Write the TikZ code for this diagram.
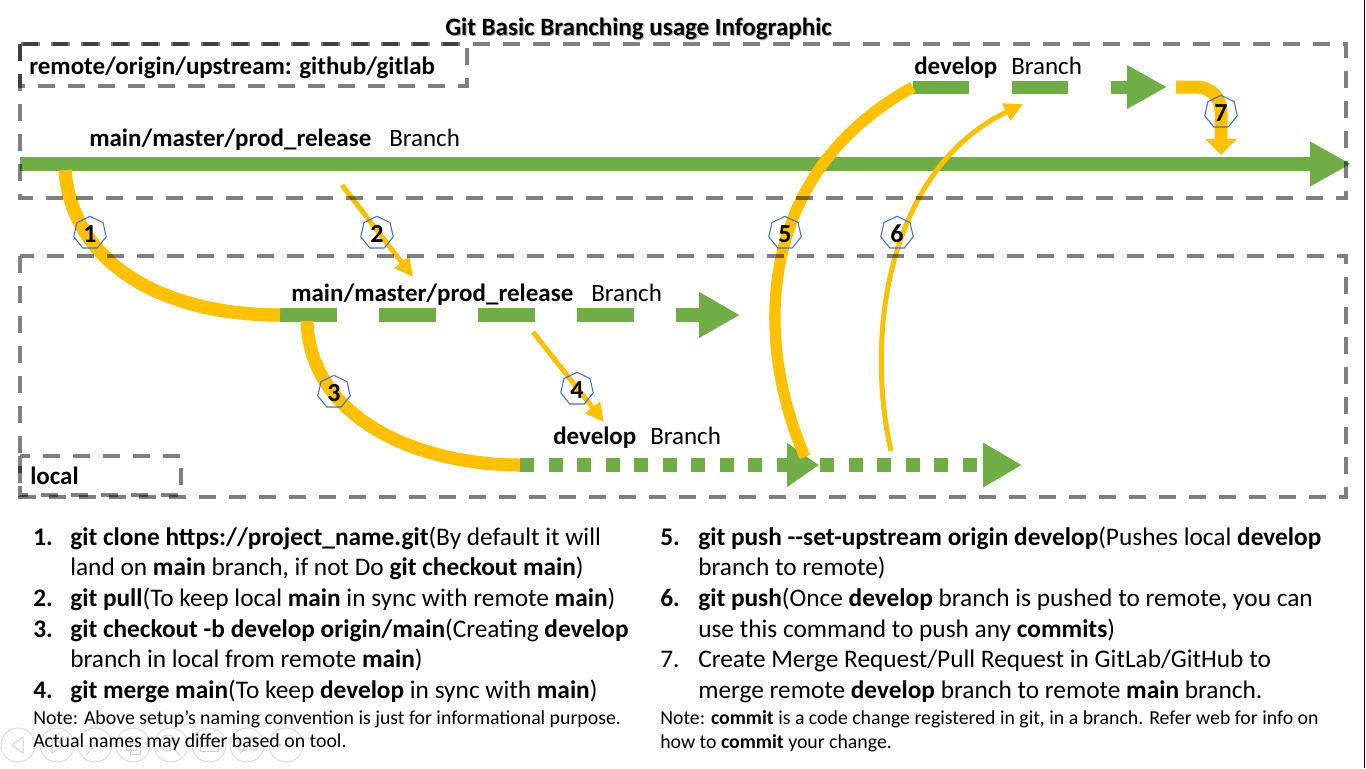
\documentclass[tikz,border=0pt]{standalone}
\usepackage{fontspec}
\setmainfont{Carlito}
\usetikzlibrary{arrows.meta,shapes.geometric,calc}

\definecolor{brgreen}{HTML}{70AD47}
\definecolor{bryellow}{HTML}{FFC000}
\definecolor{heptblue}{HTML}{4472C4}

\tikzset{
  % dashed zones (semi-transparent so overlaps darken)
  zonebox/.style={draw=black, draw opacity=0.5, line width=3pt, dash pattern=on 12.75pt off 9.75pt},
  % branch lines
  solidbranch/.style={draw=brgreen, line width=10.5pt},
  dashbranch/.style={draw=brgreen, line width=10pt, dash pattern=on 42.75pt off 31.5pt},
  dotbranch/.style={draw=brgreen, line width=10.5pt, dash pattern=on 10.5pt off 10.875pt},
  % git operations
  opthick/.style={draw=bryellow, line width=10pt},
  opthin/.style={draw=bryellow, line width=3.75pt, -{Triangle[length=14pt,width=13.5pt]}},
  hept/.style={regular polygon, regular polygon sides=7, draw=heptblue, line width=0.8pt,
               minimum size=25pt, inner sep=0pt},
  heptnum/.style={font=\bfseries\fontsize{19.5pt}{20pt}\selectfont, inner sep=0pt},
  % texts
  lbl/.style={anchor=base west, inner sep=0pt, font=\fontsize{18.75pt}{22pt}\selectfont},
  lblb/.style={lbl, font=\bfseries\fontsize{18.75pt}{22pt}\selectfont},
  itemtxt/.style={anchor=base west, inner sep=0pt, font=\fontsize{19pt}{22pt}\selectfont},
  notetxt/.style={anchor=base west, inner sep=0pt, font=\fontsize{14.85pt}{17pt}\selectfont},
  navring/.style={draw=black!14, line width=0.75pt},
  navglyph/.style={draw=black!18, line width=0.75pt},
}

\begin{document}
\begin{tikzpicture}[x=0.75pt,y=-0.75pt]
\useasboundingbox (0,0) rectangle (1366,768);

% ---------- slideshow control rings ----------
\foreach \cx [count=\k] in {18,57,95,133,171,209,247,286}
  \node[navring, circle, minimum size=25.5pt, inner sep=0pt] (nav\k) at (\cx,745) {};
\draw[navglyph] (23,737) -- (12,745) -- (23,753) -- cycle;
\draw[navglyph] (52,737) -- (63,745) -- (52,753) -- cycle;
\draw[navglyph] (88,753) -- (101,737) (88,753) -- (86,755);
\draw[navglyph] (126,739) rectangle (136,750) (130,743) rectangle (140,754);
\draw[navglyph] (168,743) circle[radius=6pt] (174,749) -- (181,756);
\draw[navglyph] (200,739) rectangle (218,751) (203,745) -- (215,745);
\draw[navglyph] (238,738) rectangle (256,750) (240,754) -- (254,736);
\foreach \dx in {-6,0,6}
  \fill[black!20] ($(nav8)+(\dx,0)$) circle[radius=1.2pt];

% ---------- anchor points ----------
\coordinate (rmA) at (20,164);   \coordinate (rmB) at (1351,164);
\coordinate (lmA) at (280,315);  \coordinate (lmB) at (740,315);
\coordinate (ldA) at (520,465);  \coordinate (ldB) at (819,465);
\coordinate (ldC) at (820,465);  \coordinate (ldD) at (1022,465);
\coordinate (rdA) at (913,87);   \coordinate (rdB) at (1167,87);

% ---------- branches ----------
\draw[solidbranch, -{Triangle[length=30.75pt,width=31.5pt]}] (rmA) -- (rmB);
\draw[dashbranch, -{Triangle[length=30.75pt,width=32.25pt]}] (lmA) -- (lmB);
\draw[dotbranch, -{Triangle[length=24pt,width=31.5pt]}] (ldA) -- (ldB);
\draw[dotbranch, -{Triangle[length=29.25pt,width=31.5pt]}] (ldC) -- (ldD);
\draw[dashbranch, line width=9.75pt, dash pattern=on 42pt off 32.25pt,
      -{Triangle[length=30pt,width=30.75pt]}] (rdA) -- (rdB);

% ---------- operations ----------
\coordinate (o1A) at (65,170);
\draw[opthick] (o1A) .. controls (72,262) and (160,315) .. (lmA);
\coordinate (o2A) at (342,185);  \coordinate (o2B) at (413,277);
\draw[opthin] (o2A) -- (o2B);
\coordinate (o3A) at (307,321);
\draw[opthick, line width=9.75pt] (o3A) .. controls (310,420) and (420,465) .. (ldA);
\coordinate (o4A) at (533,332);  \coordinate (o4B) at (604,422);
\draw[opthin] (o4A) -- (o4B);
\coordinate (o5A) at (805,457);
\draw[opthick, line width=8.5pt] (o5A) .. controls (752,335) and (758,172) .. (rdA);
\coordinate (o6A) at (891,451);  \coordinate (o6B) at (1023,104);
\draw[opthin] (o6A) .. controls (864,330) and (890,168) .. (o6B);
\coordinate (o7A) at (1176,87);  \coordinate (o7B) at (1221,155);
\draw[opthick, line width=9.75pt, rounded corners=18pt,
      -{Triangle[length=12pt,width=23.25pt]}] (o7A) -| (o7B);

% ---------- zones ----------
\draw[zonebox] (20,44) rectangle (1346,198);
\draw[zonebox] (20,44) rectangle (467,86);
\draw[zonebox] (20,256) rectangle (1346,497);
\draw[zonebox] (20,456) rectangle (181,495);

% slide edge
\draw[black, line width=1.1pt] (1364.5,0) -- (1364.5,768);

% ---------- step markers ----------
\foreach \n/\px/\py in {1/90/233, 2/377/233, 3/334/392, 4/577/389, 5/785/233, 6/897/233, 7/1221/112}{
  \node[hept] (h\n) at (\px,\py) {};
  \node[heptnum] at ($(h\n)+(0,1)$) {\n};
}

% ---------- titles and labels ----------
\node[anchor=base, inner sep=0pt, text=black!35, font=\bfseries\fontsize{18.75pt}{22pt}\selectfont]
  (titleshadow) at (639.5,36) {Git Basic Branching usage Infographic};
\node[anchor=base, inner sep=0pt, font=\bfseries\fontsize{18.75pt}{22pt}\selectfont]
  (title) at (638.5,35) {Git Basic Branching usage Infographic};

\node[lblb] (remotelbl) at (29,74) {remote/origin/upstream: github/gitlab};
\node[lblb] (rmname) at (89,146) {main/master/prod\_release};
\node[lbl]  (rmbr)   at (389,146) {Branch};
\node[lblb] (lmname) at (291,301) {main/master/prod\_release};
\node[lbl]  (lmbr)   at (591,301) {Branch};
\node[lblb] (ldname) at (553,444) {develop};
\node[lbl]  (ldbr)   at (650,444) {Branch};
\node[lblb] (rdname) at (914,74) {develop};
\node[lbl]  (rdbr)   at (1011,74) {Branch};
\node[lblb] (locallbl) at (30,484) {local};

% ---------- command list, left ----------
\node[itemtxt] (n1) at (33,545) {\textbf{1.}};
\node[itemtxt] (t1a) at (70,545) {\textbf{git clone https://project\_name.git}(By default it will};
\node[itemtxt] (t1b) at (70,575) {land on \textbf{main} branch, if not Do \textbf{git checkout main})};
\node[itemtxt] (n2) at (33,606) {\textbf{2.}};
\node[itemtxt] (t2) at (70,606) {\textbf{git pull}(To keep local \textbf{main} in sync with remote \textbf{main})};
\node[itemtxt] (n3) at (33,637) {\textbf{3.}};
\node[itemtxt] (t3a) at (70,637) {\textbf{git checkout -b develop origin/main}(Creating \textbf{develop}};
\node[itemtxt] (t3b) at (70,667) {branch in local from remote \textbf{main})};
\node[itemtxt] (n4) at (33,698) {\textbf{4.}};
\node[itemtxt] (t4) at (70,698) {\textbf{git merge main}(To keep \textbf{develop} in sync with \textbf{main})};
\node[notetxt] (nl1) at (33,724) {Note: Above setup’s naming convention is just for informational purpose.};
\node[notetxt] (nl2) at (33,747) {Actual names may differ based on tool.};

% ---------- command list, right ----------
\node[itemtxt] (n5) at (660,545) {\textbf{5.}};
\node[itemtxt] (t5a) at (698,545) {\textbf{git push -\kern0pt-set-upstream origin develop}(Pushes local \textbf{develop}};
\node[itemtxt] (t5b) at (698,575) {branch to remote)};
\node[itemtxt] (n6) at (660,606) {\textbf{6.}};
\node[itemtxt] (t6a) at (698,606) {\textbf{git push}(Once \textbf{develop} branch is pushed to remote, you can};
\node[itemtxt] (t6b) at (698,637) {use this command to push any \textbf{commits})};
\node[itemtxt] (n7) at (660,667) {7.};
\node[itemtxt] (t7a) at (698,667) {Create Merge Request/Pull Request in GitLab/GitHub to};
\node[itemtxt] (t7b) at (698,698) {merge remote \textbf{develop} branch to remote \textbf{main} branch.};
\node[notetxt] (nr1) at (660,724) {Note: \textbf{commit} is a code change registered in git, in a branch. Refer web for info on};
\node[notetxt] (nr2) at (660,748) {how to \textbf{commit} your change.};
\end{tikzpicture}
\end{document}
